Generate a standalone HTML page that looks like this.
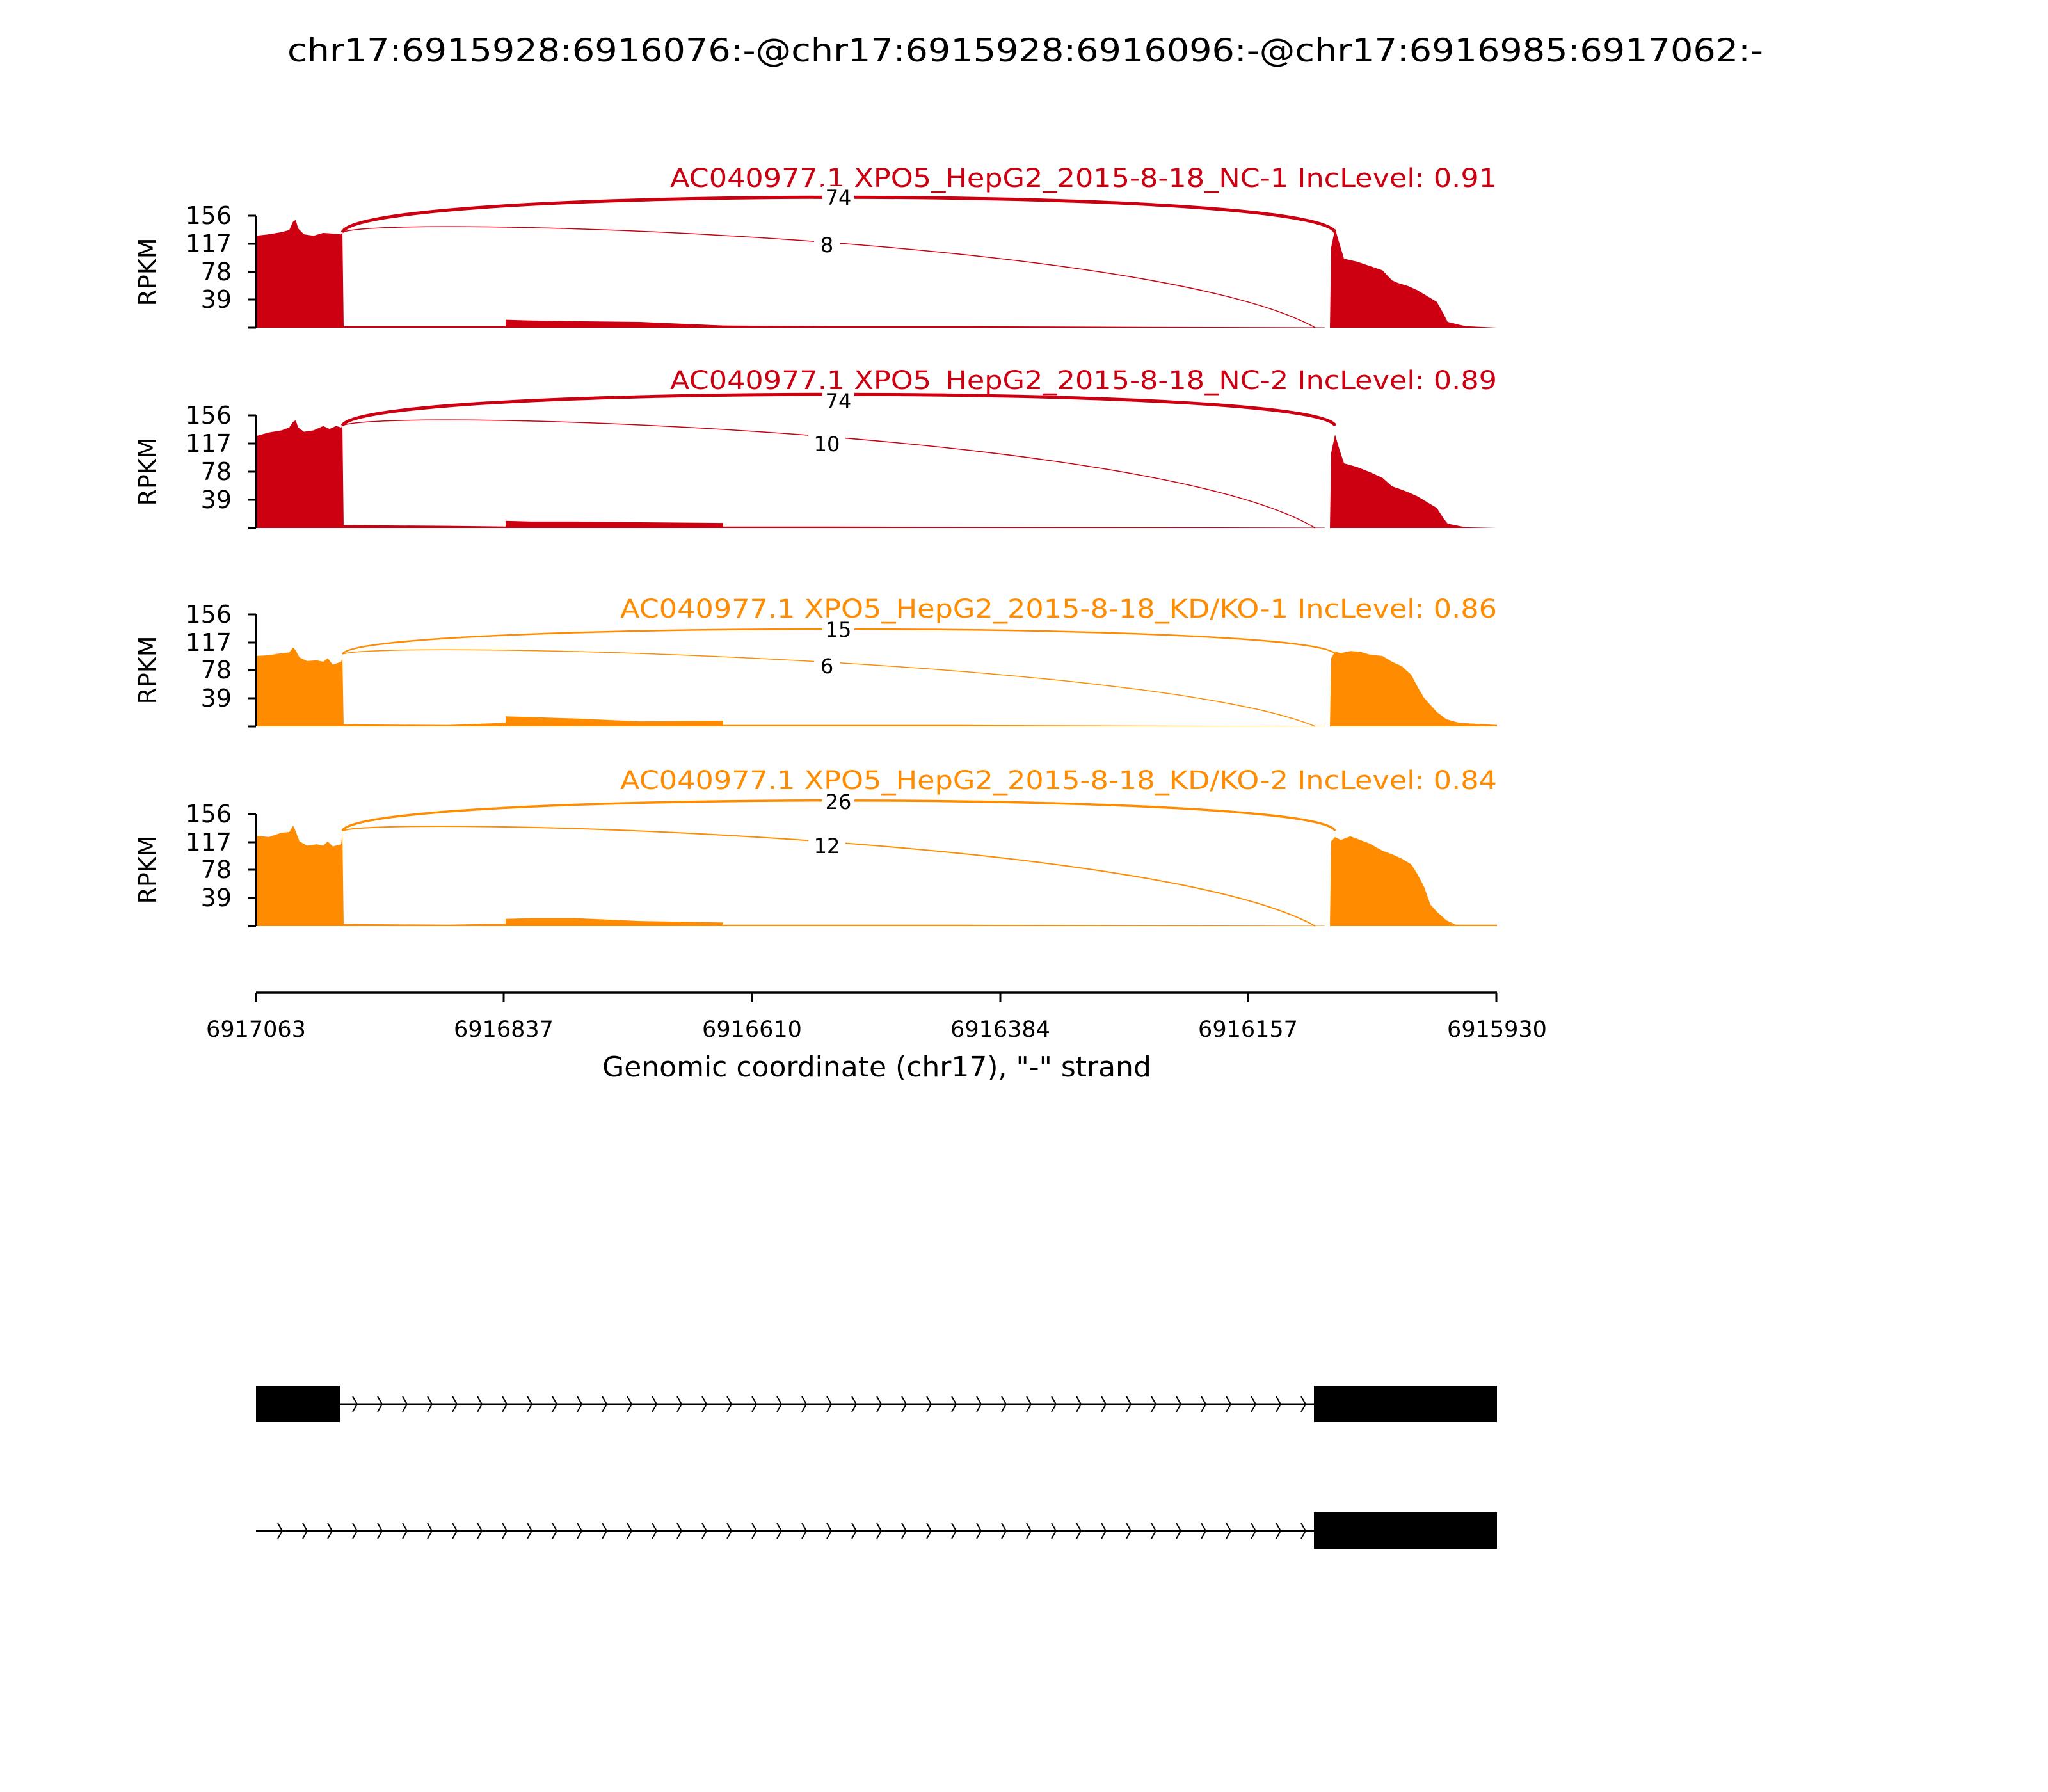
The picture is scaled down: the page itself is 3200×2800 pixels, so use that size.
<!DOCTYPE html>
<html><head><meta charset="utf-8"><style>
html,body{margin:0;padding:0;background:#fff}
svg{display:block}
text{font-family:"DejaVu Sans","Liberation Sans",sans-serif}
</style></head><body>
<svg width="3200" height="2800" viewBox="0 0 3200 2800" xmlns="http://www.w3.org/2000/svg">
<rect width="3200" height="2800" fill="#fff"/>
<text x="1602" y="96" font-size="50" text-anchor="middle" textLength="2306" lengthAdjust="spacingAndGlyphs">chr17:6915928:6916076:-@chr17:6915928:6916096:-@chr17:6916985:6917062:-</text>

<!-- Panel 1 -->
<g>
<text x="2339" y="292" font-size="40" fill="#cc0011" text-anchor="end" textLength="1292" lengthAdjust="spacingAndGlyphs">AC040977.1 XPO5_HepG2_2015-8-18_NC-1 IncLevel: 0.91</text>
<g transform="translate(0,512) scale(1,-1.122)" fill="#cc0011">
<path d="M400,0 L400,128 420,130 440,133 452,136 458,148 462,150 466,138 475,130 490,128 505,132 520,131 533,130 535,133 537,0 Z"/>
<path d="M537,0 L537,2 790,2 790,11 830,10 900,9 1000,8 1130,3 1300,2 1500,2 1830,1 2070,0.5 2070,0 Z"/>
<path d="M2078,0 L2080,112 2086,138 2092,120 2100,96 2120,92 2140,86 2160,80 2175,66 2185,62 2200,58 2215,52 2230,44 2245,36 2255,20 2262,8 2290,2 2339,0 Z"/>
</g>
<path d="M535,363 C560,290 2060,290 2086,363" fill="none" stroke="#cc0011" stroke-width="5"/>
<path d="M535,363 C600,335 1800,370 2055,512" fill="none" stroke="#cc0011" stroke-width="1.5"/>
<rect x="1285" y="290" width="50" height="36" fill="#fff"/><text x="1310" y="320" font-size="32" text-anchor="middle">74</text>
<rect x="1272" y="366" width="40" height="34" fill="#fff"/><text x="1292" y="394" font-size="32" text-anchor="middle">8</text>
</g>

<!-- Panel 2 -->
<g>
<text x="2339" y="608" font-size="40" fill="#cc0011" text-anchor="end" textLength="1292" lengthAdjust="spacingAndGlyphs">AC040977.1 XPO5_HepG2_2015-8-18_NC-2 IncLevel: 0.89</text>
<g transform="translate(0,825) scale(1,-1.122)" fill="#cc0011">
<path d="M400,0 L400,128 420,133 440,136 452,140 458,148 462,150 466,140 475,134 490,136 505,142 515,138 525,142 533,140 535,142 537,0 Z"/>
<path d="M537,0 L537,4 700,3 790,2 790,10 830,9 900,9 1000,8 1130,7 1130,2 1300,2 1500,1.5 1830,1 2070,0.5 2070,0 Z"/>
<path d="M2078,0 L2080,105 2086,130 2092,112 2100,90 2120,85 2140,78 2160,70 2175,58 2185,55 2200,50 2215,44 2230,36 2245,28 2255,14 2262,6 2290,1 2339,0 Z"/>
</g>
<path d="M535,665 C560,600 2060,600 2086,665" fill="none" stroke="#cc0011" stroke-width="5"/>
<path d="M535,665 C600,637 1800,672 2055,825" fill="none" stroke="#cc0011" stroke-width="1.5"/>
<rect x="1285" y="609" width="50" height="36" fill="#fff"/><text x="1310" y="638" font-size="32" text-anchor="middle">74</text>
<rect x="1263" y="678" width="58" height="34" fill="#fff"/><text x="1292" y="705" font-size="32" text-anchor="middle">10</text>
</g>

<!-- Panel 3 -->
<g>
<text x="2339" y="965" font-size="40" fill="#ff8c00" text-anchor="end" textLength="1370" lengthAdjust="spacingAndGlyphs">AC040977.1 XPO5_HepG2_2015-8-18_KD/KO-1 IncLevel: 0.86</text>
<g transform="translate(0,1135) scale(1,-1.122)" fill="#ff8c00">
<path d="M400,0 L400,98 420,99 440,102 452,103 458,110 462,106 468,96 480,91 495,92 505,90 512,95 520,86 533,90 535,96 537,0 Z"/>
<path d="M537,3 L700,2 760,4 790,5 790,14 830,13 900,11 1000,7 1130,8 1130,2 1300,2 1500,2 1830,1 2070,0.5 2070,0 537,0 Z"/>
<path d="M2078,0 L2080,95 2086,104 2095,102 2110,105 2125,104 2140,100 2160,98 2175,90 2190,84 2205,72 2215,55 2225,40 2235,30 2245,20 2260,10 2280,5 2339,2 2339,0 Z"/>
</g>
<path d="M535,1022 C560,970 2060,970 2086,1022" fill="none" stroke="#ff8c00" stroke-width="2.5"/>
<path d="M535,1022 C600,1000 1800,1030 2055,1135" fill="none" stroke="#ff8c00" stroke-width="1.5"/>
<rect x="1285" y="968" width="50" height="34" fill="#fff"/><text x="1310" y="995" font-size="32" text-anchor="middle">15</text>
<rect x="1272" y="1025" width="40" height="34" fill="#fff"/><text x="1292" y="1052" font-size="32" text-anchor="middle">6</text>
</g>

<!-- Panel 4 -->
<g>
<text x="2339" y="1233" font-size="40" fill="#ff8c00" text-anchor="end" textLength="1370" lengthAdjust="spacingAndGlyphs">AC040977.1 XPO5_HepG2_2015-8-18_KD/KO-2 IncLevel: 0.84</text>
<g transform="translate(0,1447) scale(1,-1.122)" fill="#ff8c00">
<path d="M400,0 L400,126 420,124 440,130 452,131 458,140 462,132 468,118 480,112 495,114 505,112 512,118 520,111 533,114 535,130 537,0 Z"/>
<path d="M537,3 L700,2 760,3 790,3 790,10 830,11 900,11 1000,7 1130,5 1130,2 1300,2 1500,2 1830,1 2070,0.5 2070,0 537,0 Z"/>
<path d="M2078,0 L2080,118 2086,124 2095,120 2110,125 2125,120 2140,115 2160,105 2175,100 2190,94 2205,86 2215,72 2225,55 2235,30 2245,20 2260,8 2275,2 2339,2 2339,0 Z"/>
</g>
<path d="M535,1298 C560,1235 2060,1235 2086,1298" fill="none" stroke="#ff8c00" stroke-width="3.5"/>
<path d="M535,1298 C600,1275 1800,1305 2055,1447" fill="none" stroke="#ff8c00" stroke-width="2"/>
<rect x="1285" y="1236" width="50" height="34" fill="#fff"/><text x="1310" y="1264" font-size="32" text-anchor="middle">26</text>
<rect x="1263" y="1306" width="58" height="34" fill="#fff"/><text x="1292" y="1333" font-size="32" text-anchor="middle">12</text>
</g>

<!-- y axes -->
<g stroke="#000" stroke-width="3">
<path d="M400,337 V512 M388,337 H400 M388,381 H400 M388,425 H400 M388,468 H400 M388,512 H400"/>
<path d="M400,649 V825 M388,649 H400 M388,693 H400 M388,737 H400 M388,781 H400 M388,825 H400"/>
<path d="M400,960 V1135 M388,960 H400 M388,1004 H400 M388,1047 H400 M388,1091 H400 M388,1135 H400"/>
<path d="M400,1272 V1447 M388,1272 H400 M388,1316 H400 M388,1359 H400 M388,1403 H400 M388,1447 H400"/>
</g>
<g font-size="38" text-anchor="end">
<text x="362" y="350">156</text><text x="362" y="394">117</text><text x="362" y="438">78</text><text x="362" y="481">39</text>
<text x="362" y="662">156</text><text x="362" y="706">117</text><text x="362" y="750">78</text><text x="362" y="794">39</text>
<text x="362" y="973">156</text><text x="362" y="1017">117</text><text x="362" y="1060">78</text><text x="362" y="1104">39</text>
<text x="362" y="1285">156</text><text x="362" y="1329">117</text><text x="362" y="1372">78</text><text x="362" y="1416">39</text>
</g>
<g font-size="38" text-anchor="middle">
<text transform="translate(244,425) rotate(-90)">RPKM</text>
<text transform="translate(244,737) rotate(-90)">RPKM</text>
<text transform="translate(244,1047) rotate(-90)">RPKM</text>
<text transform="translate(244,1359) rotate(-90)">RPKM</text>
</g>

<!-- x axis -->
<g stroke="#000" stroke-width="3.5">
<path d="M400,1551 H2339"/>
<path d="M400,1551 V1565 M787,1551 V1565 M1175,1551 V1565 M1563,1551 V1565 M1950,1551 V1565 M2338,1551 V1565" stroke-width="3"/>
</g>
<g font-size="35" text-anchor="middle">
<text x="400" y="1620">6917063</text><text x="787" y="1620">6916837</text><text x="1175" y="1620">6916610</text>
<text x="1563" y="1620">6916384</text><text x="1950" y="1620">6916157</text><text x="2339" y="1620">6915930</text>
</g>
<text x="1370" y="1682" font-size="44" text-anchor="middle">Genomic coordinate (chr17), "-" strand</text>

<!-- gene tracks -->
<rect x="400" y="2165" width="131" height="57" fill="#000"/>
<rect x="2053" y="2165" width="286" height="57" fill="#000"/>
<path d="M531,2194 H2053" stroke="#000" stroke-width="3"/>
<path d="M551,2182 l7,12 -7,12 M590,2182 l7,12 -7,12 M629,2182 l7,12 -7,12 M668,2182 l7,12 -7,12 M707,2182 l7,12 -7,12 M746,2182 l7,12 -7,12 M785,2182 l7,12 -7,12 M824,2182 l7,12 -7,12 M863,2182 l7,12 -7,12 M902,2182 l7,12 -7,12 M941,2182 l7,12 -7,12 M980,2182 l7,12 -7,12 M1019,2182 l7,12 -7,12 M1058,2182 l7,12 -7,12 M1097,2182 l7,12 -7,12 M1136,2182 l7,12 -7,12 M1175,2182 l7,12 -7,12 M1214,2182 l7,12 -7,12 M1253,2182 l7,12 -7,12 M1292,2182 l7,12 -7,12 M1331,2182 l7,12 -7,12 M1370,2182 l7,12 -7,12 M1409,2182 l7,12 -7,12 M1448,2182 l7,12 -7,12 M1487,2182 l7,12 -7,12 M1526,2182 l7,12 -7,12 M1565,2182 l7,12 -7,12 M1604,2182 l7,12 -7,12 M1643,2182 l7,12 -7,12 M1682,2182 l7,12 -7,12 M1721,2182 l7,12 -7,12 M1760,2182 l7,12 -7,12 M1799,2182 l7,12 -7,12 M1838,2182 l7,12 -7,12 M1877,2182 l7,12 -7,12 M1916,2182 l7,12 -7,12 M1955,2182 l7,12 -7,12 M1994,2182 l7,12 -7,12 M2033,2182 l7,12 -7,12" stroke="#000" stroke-width="2" fill="none"/>
<rect x="2053" y="2363" width="286" height="57" fill="#000"/>
<path d="M400,2392 H2053" stroke="#000" stroke-width="3"/>
<path d="M434,2380 l7,12 -7,12 M473,2380 l7,12 -7,12 M512,2380 l7,12 -7,12 M551,2380 l7,12 -7,12 M590,2380 l7,12 -7,12 M629,2380 l7,12 -7,12 M668,2380 l7,12 -7,12 M707,2380 l7,12 -7,12 M746,2380 l7,12 -7,12 M785,2380 l7,12 -7,12 M824,2380 l7,12 -7,12 M863,2380 l7,12 -7,12 M902,2380 l7,12 -7,12 M941,2380 l7,12 -7,12 M980,2380 l7,12 -7,12 M1019,2380 l7,12 -7,12 M1058,2380 l7,12 -7,12 M1097,2380 l7,12 -7,12 M1136,2380 l7,12 -7,12 M1175,2380 l7,12 -7,12 M1214,2380 l7,12 -7,12 M1253,2380 l7,12 -7,12 M1292,2380 l7,12 -7,12 M1331,2380 l7,12 -7,12 M1370,2380 l7,12 -7,12 M1409,2380 l7,12 -7,12 M1448,2380 l7,12 -7,12 M1487,2380 l7,12 -7,12 M1526,2380 l7,12 -7,12 M1565,2380 l7,12 -7,12 M1604,2380 l7,12 -7,12 M1643,2380 l7,12 -7,12 M1682,2380 l7,12 -7,12 M1721,2380 l7,12 -7,12 M1760,2380 l7,12 -7,12 M1799,2380 l7,12 -7,12 M1838,2380 l7,12 -7,12 M1877,2380 l7,12 -7,12 M1916,2380 l7,12 -7,12 M1955,2380 l7,12 -7,12 M1994,2380 l7,12 -7,12 M2033,2380 l7,12 -7,12" stroke="#000" stroke-width="2" fill="none"/>
</svg>
</body></html>
